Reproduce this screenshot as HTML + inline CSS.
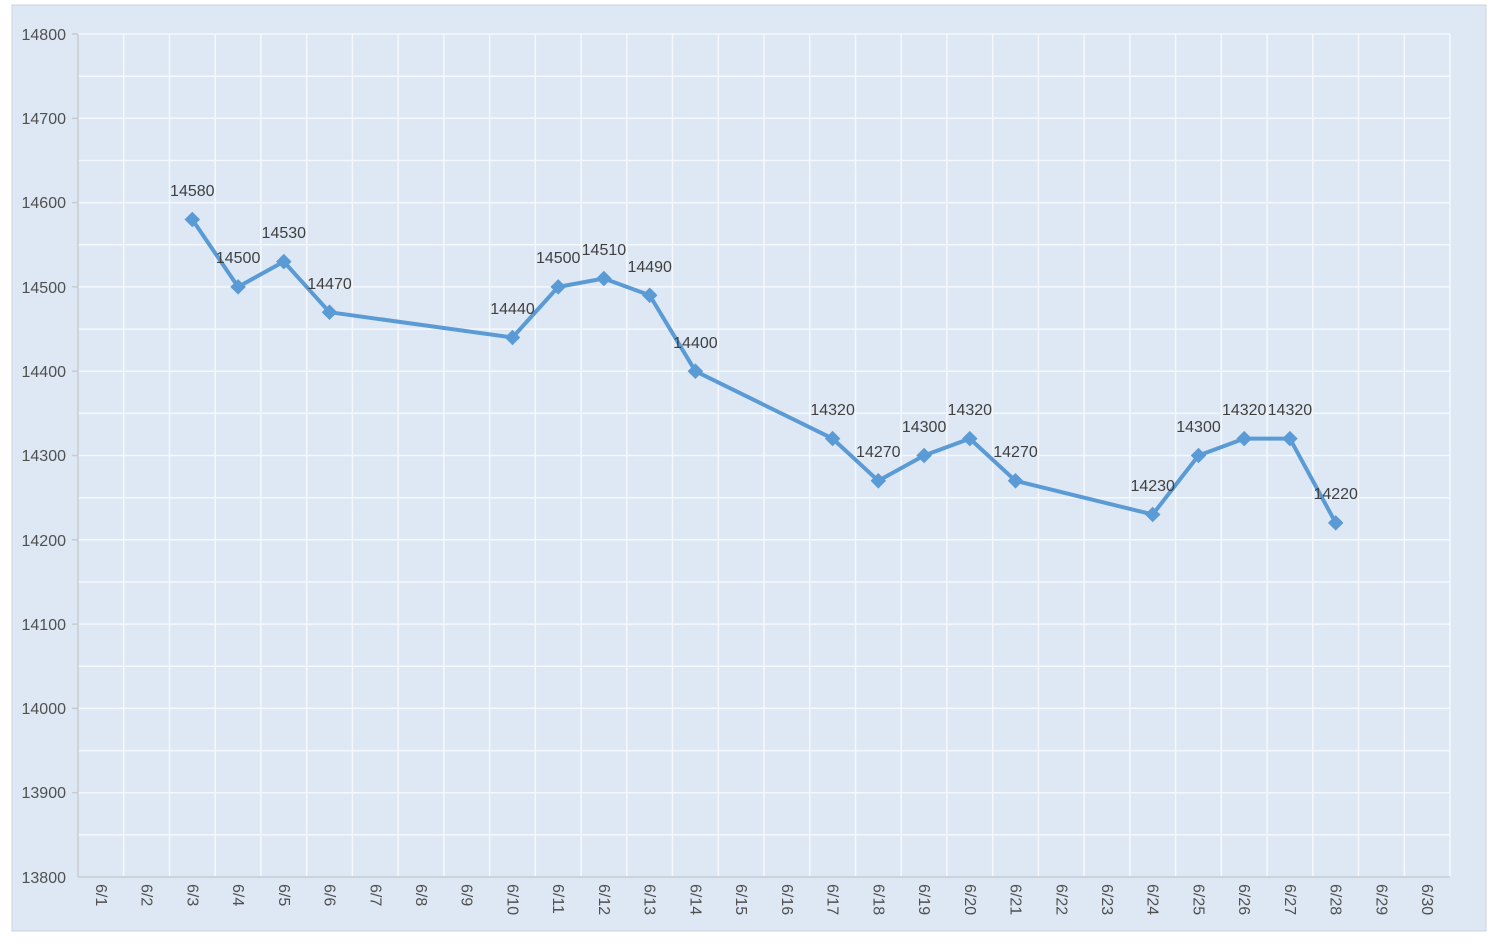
<!DOCTYPE html>
<html><head><meta charset="utf-8"><style>
html,body{margin:0;padding:0;background:#fff;}
svg{display:block;font-family:"Liberation Sans",sans-serif;}
</style></head><body>
<svg width="1496" height="944" viewBox="0 0 1496 944">
<rect x="12" y="5" width="1474" height="926" fill="#dde8f4" stroke="#c9d3de" stroke-width="1"/>
<g stroke="#f4f8fc" stroke-width="1.5">
<line x1="78" x2="1450" y1="34" y2="34"/><line x1="78" x2="1450" y1="76.2" y2="76.2"/><line x1="78" x2="1450" y1="118.3" y2="118.3"/><line x1="78" x2="1450" y1="160.5" y2="160.5"/><line x1="78" x2="1450" y1="202.6" y2="202.6"/><line x1="78" x2="1450" y1="244.8" y2="244.8"/><line x1="78" x2="1450" y1="286.9" y2="286.9"/><line x1="78" x2="1450" y1="329.1" y2="329.1"/><line x1="78" x2="1450" y1="371.2" y2="371.2"/><line x1="78" x2="1450" y1="413.4" y2="413.4"/><line x1="78" x2="1450" y1="455.5" y2="455.5"/><line x1="78" x2="1450" y1="497.7" y2="497.7"/><line x1="78" x2="1450" y1="539.8" y2="539.8"/><line x1="78" x2="1450" y1="582" y2="582"/><line x1="78" x2="1450" y1="624.1" y2="624.1"/><line x1="78" x2="1450" y1="666.3" y2="666.3"/><line x1="78" x2="1450" y1="708.4" y2="708.4"/><line x1="78" x2="1450" y1="750.6" y2="750.6"/><line x1="78" x2="1450" y1="792.7" y2="792.7"/><line x1="78" x2="1450" y1="834.9" y2="834.9"/>
<line y1="34" y2="877" x1="123.7" x2="123.7"/><line y1="34" y2="877" x1="169.5" x2="169.5"/><line y1="34" y2="877" x1="215.2" x2="215.2"/><line y1="34" y2="877" x1="260.9" x2="260.9"/><line y1="34" y2="877" x1="306.7" x2="306.7"/><line y1="34" y2="877" x1="352.4" x2="352.4"/><line y1="34" y2="877" x1="398.1" x2="398.1"/><line y1="34" y2="877" x1="443.9" x2="443.9"/><line y1="34" y2="877" x1="489.6" x2="489.6"/><line y1="34" y2="877" x1="535.3" x2="535.3"/><line y1="34" y2="877" x1="581.1" x2="581.1"/><line y1="34" y2="877" x1="626.8" x2="626.8"/><line y1="34" y2="877" x1="672.5" x2="672.5"/><line y1="34" y2="877" x1="718.3" x2="718.3"/><line y1="34" y2="877" x1="764" x2="764"/><line y1="34" y2="877" x1="809.7" x2="809.7"/><line y1="34" y2="877" x1="855.5" x2="855.5"/><line y1="34" y2="877" x1="901.2" x2="901.2"/><line y1="34" y2="877" x1="946.9" x2="946.9"/><line y1="34" y2="877" x1="992.7" x2="992.7"/><line y1="34" y2="877" x1="1038.4" x2="1038.4"/><line y1="34" y2="877" x1="1084.1" x2="1084.1"/><line y1="34" y2="877" x1="1129.9" x2="1129.9"/><line y1="34" y2="877" x1="1175.6" x2="1175.6"/><line y1="34" y2="877" x1="1221.3" x2="1221.3"/><line y1="34" y2="877" x1="1267.1" x2="1267.1"/><line y1="34" y2="877" x1="1312.8" x2="1312.8"/><line y1="34" y2="877" x1="1358.5" x2="1358.5"/><line y1="34" y2="877" x1="1404.3" x2="1404.3"/><line y1="34" y2="877" x1="1450" x2="1450"/>
</g>
<g stroke="#c8ccd2" stroke-width="1.5">
<line x1="78" x2="78" y1="34" y2="877"/><line x1="78" x2="1450" y1="877" y2="877"/>
<line x1="72" x2="78" y1="34" y2="34"/><line x1="72" x2="78" y1="118.3" y2="118.3"/><line x1="72" x2="78" y1="202.6" y2="202.6"/><line x1="72" x2="78" y1="286.9" y2="286.9"/><line x1="72" x2="78" y1="371.2" y2="371.2"/><line x1="72" x2="78" y1="455.5" y2="455.5"/><line x1="72" x2="78" y1="539.8" y2="539.8"/><line x1="72" x2="78" y1="624.1" y2="624.1"/><line x1="72" x2="78" y1="708.4" y2="708.4"/><line x1="72" x2="78" y1="792.7" y2="792.7"/>
</g>
<g font-size="16" fill="#505050" text-anchor="end">
<text x="66" y="40">14800</text><text x="66" y="124">14700</text><text x="66" y="208">14600</text><text x="66" y="293">14500</text><text x="66" y="377">14400</text><text x="66" y="461">14300</text><text x="66" y="546">14200</text><text x="66" y="630">14100</text><text x="66" y="714">14000</text><text x="66" y="798">13900</text><text x="66" y="883">13800</text>
</g>
<g font-size="16" fill="#505050">
<text transform="translate(96,884) rotate(90)">6/1</text><text transform="translate(141.6,884) rotate(90)">6/2</text><text transform="translate(187.3,884) rotate(90)">6/3</text><text transform="translate(233.1,884) rotate(90)">6/4</text><text transform="translate(278.8,884) rotate(90)">6/5</text><text transform="translate(324.5,884) rotate(90)">6/6</text><text transform="translate(370.3,884) rotate(90)">6/7</text><text transform="translate(416,884) rotate(90)">6/8</text><text transform="translate(461.7,884) rotate(90)">6/9</text><text transform="translate(507.5,884) rotate(90)">6/10</text><text transform="translate(553.2,884) rotate(90)">6/11</text><text transform="translate(598.9,884) rotate(90)">6/12</text><text transform="translate(644.7,884) rotate(90)">6/13</text><text transform="translate(690.4,884) rotate(90)">6/14</text><text transform="translate(736.1,884) rotate(90)">6/15</text><text transform="translate(781.9,884) rotate(90)">6/16</text><text transform="translate(827.6,884) rotate(90)">6/17</text><text transform="translate(873.3,884) rotate(90)">6/18</text><text transform="translate(919.1,884) rotate(90)">6/19</text><text transform="translate(964.8,884) rotate(90)">6/20</text><text transform="translate(1010.5,884) rotate(90)">6/21</text><text transform="translate(1056.3,884) rotate(90)">6/22</text><text transform="translate(1102,884) rotate(90)">6/23</text><text transform="translate(1147.7,884) rotate(90)">6/24</text><text transform="translate(1193.5,884) rotate(90)">6/25</text><text transform="translate(1239.2,884) rotate(90)">6/26</text><text transform="translate(1284.9,884) rotate(90)">6/27</text><text transform="translate(1330.7,884) rotate(90)">6/28</text><text transform="translate(1376.4,884) rotate(90)">6/29</text><text transform="translate(1422.1,884) rotate(90)">6/30</text>
</g>
<polyline fill="none" stroke="#5b9bd5" stroke-width="4" stroke-linejoin="round" points="192.3,219.5 238.1,286.9 283.8,261.6 329.5,312.2 512.5,337.5 558.2,286.9 603.9,278.5 649.7,295.3 695.4,371.2 832.6,438.6 878.3,480.8 924.1,455.5 969.8,438.6 1015.5,480.8 1152.7,514.5 1198.5,455.5 1244.2,438.6 1289.9,438.6 1335.7,522.9"/>
<g fill="#5b9bd5">
<rect x="-5.5" y="-5.5" width="11" height="11" transform="translate(192.3,219.5) rotate(45)"/><rect x="-5.5" y="-5.5" width="11" height="11" transform="translate(238.1,286.9) rotate(45)"/><rect x="-5.5" y="-5.5" width="11" height="11" transform="translate(283.8,261.6) rotate(45)"/><rect x="-5.5" y="-5.5" width="11" height="11" transform="translate(329.5,312.2) rotate(45)"/><rect x="-5.5" y="-5.5" width="11" height="11" transform="translate(512.5,337.5) rotate(45)"/><rect x="-5.5" y="-5.5" width="11" height="11" transform="translate(558.2,286.9) rotate(45)"/><rect x="-5.5" y="-5.5" width="11" height="11" transform="translate(603.9,278.5) rotate(45)"/><rect x="-5.5" y="-5.5" width="11" height="11" transform="translate(649.7,295.3) rotate(45)"/><rect x="-5.5" y="-5.5" width="11" height="11" transform="translate(695.4,371.2) rotate(45)"/><rect x="-5.5" y="-5.5" width="11" height="11" transform="translate(832.6,438.6) rotate(45)"/><rect x="-5.5" y="-5.5" width="11" height="11" transform="translate(878.3,480.8) rotate(45)"/><rect x="-5.5" y="-5.5" width="11" height="11" transform="translate(924.1,455.5) rotate(45)"/><rect x="-5.5" y="-5.5" width="11" height="11" transform="translate(969.8,438.6) rotate(45)"/><rect x="-5.5" y="-5.5" width="11" height="11" transform="translate(1015.5,480.8) rotate(45)"/><rect x="-5.5" y="-5.5" width="11" height="11" transform="translate(1152.7,514.5) rotate(45)"/><rect x="-5.5" y="-5.5" width="11" height="11" transform="translate(1198.5,455.5) rotate(45)"/><rect x="-5.5" y="-5.5" width="11" height="11" transform="translate(1244.2,438.6) rotate(45)"/><rect x="-5.5" y="-5.5" width="11" height="11" transform="translate(1289.9,438.6) rotate(45)"/><rect x="-5.5" y="-5.5" width="11" height="11" transform="translate(1335.7,522.9) rotate(45)"/>
</g>
<g font-size="16" fill="#404040" text-anchor="middle">
<text x="192.3" y="196">14580</text><text x="238.1" y="263">14500</text><text x="283.8" y="238">14530</text><text x="329.5" y="289">14470</text><text x="512.5" y="314">14440</text><text x="558.2" y="263">14500</text><text x="603.9" y="255">14510</text><text x="649.7" y="272">14490</text><text x="695.4" y="348">14400</text><text x="832.6" y="415">14320</text><text x="878.3" y="457">14270</text><text x="924.1" y="432">14300</text><text x="969.8" y="415">14320</text><text x="1015.5" y="457">14270</text><text x="1152.7" y="491">14230</text><text x="1198.5" y="432">14300</text><text x="1244.2" y="415">14320</text><text x="1289.9" y="415">14320</text><text x="1335.7" y="499">14220</text>
</g>
</svg>
</body></html>
